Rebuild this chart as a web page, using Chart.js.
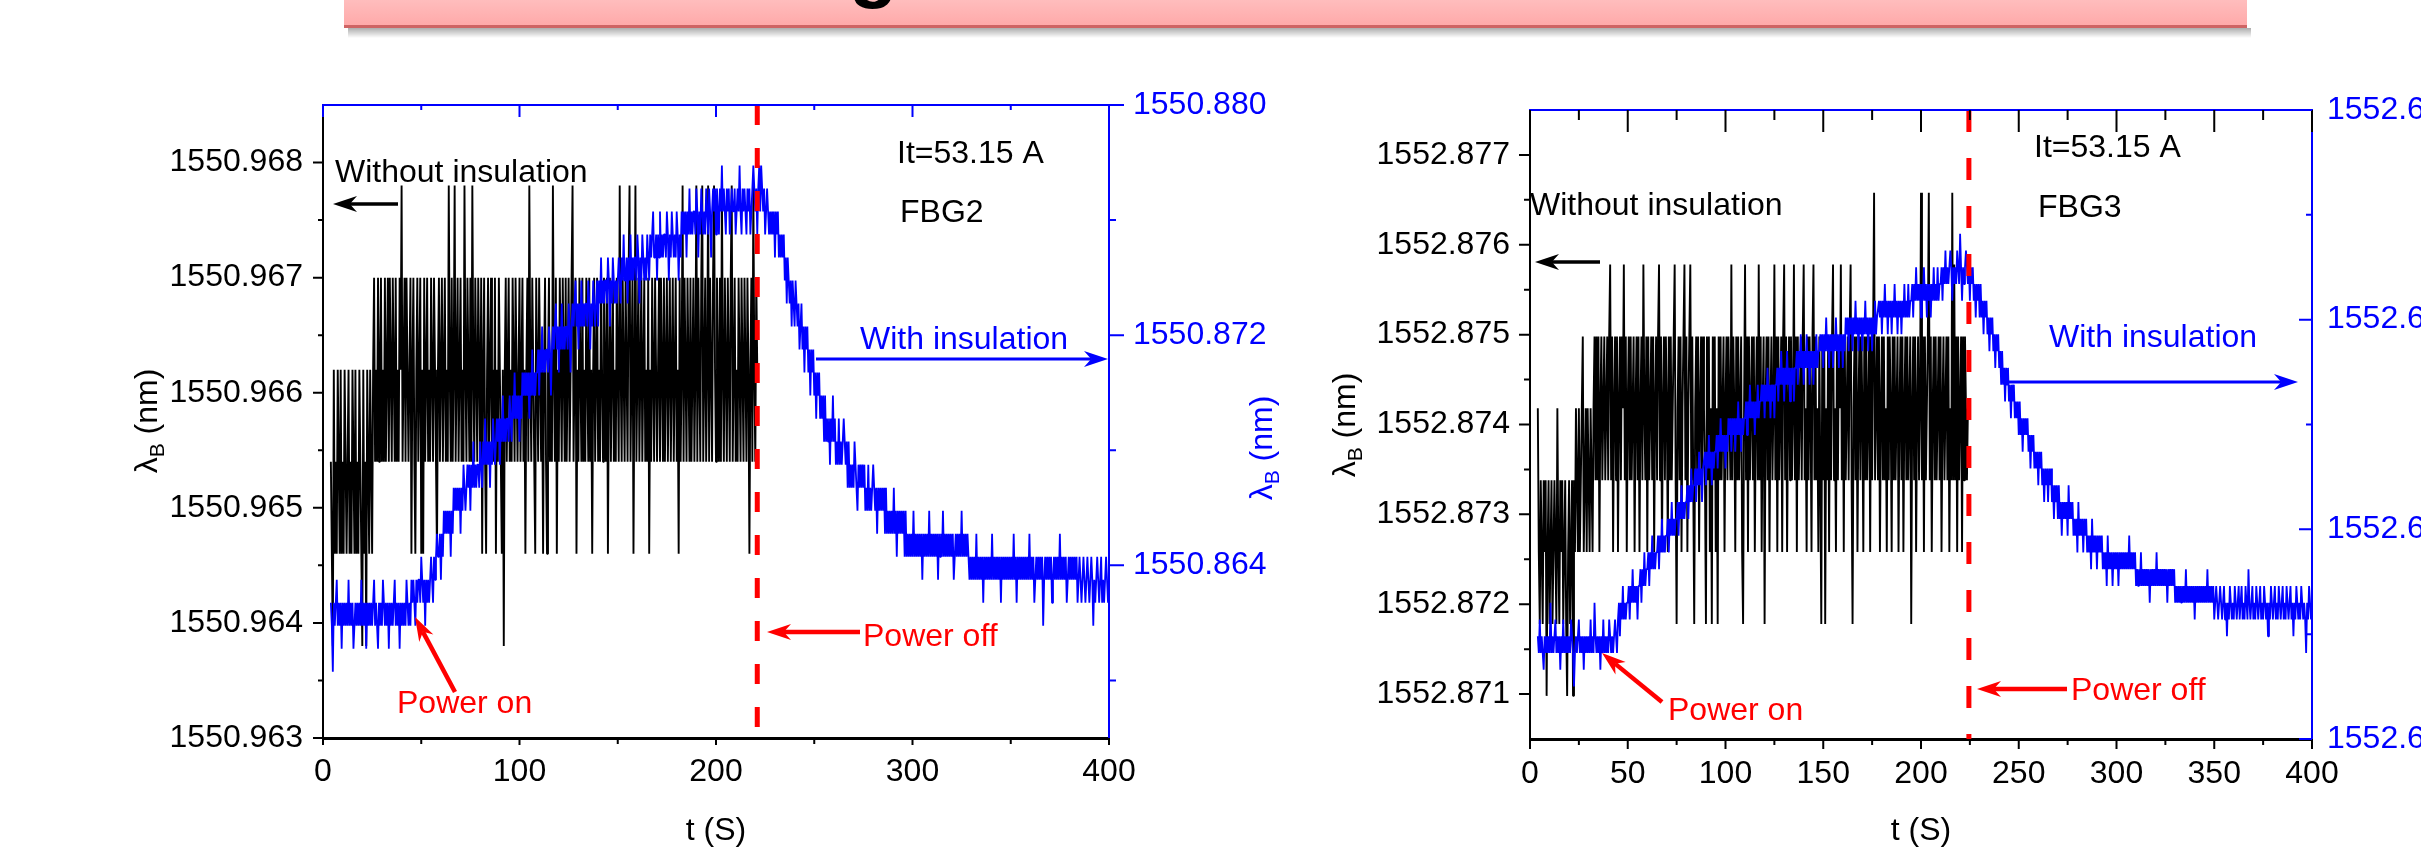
<!DOCTYPE html>
<html>
<head>
<meta charset="utf-8">
<script src="https://cdn.jsdelivr.net/npm/chart.js@4.4.1/dist/chart.umd.min.js"></script>
<style>
html, body { margin:0; padding:0; background:#ffffff; width:2421px; height:853px; overflow:hidden; }
canvas { position:absolute; top:0; }
#banner { left:344px; }
#fbg2 { left:0; }
#fbg3 { left:1300px; }
</style>
</head>
<body>
<canvas id="banner" width="1912" height="44"></canvas>
<canvas id="fbg2" width="1300" height="853"></canvas>
<canvas id="fbg3" width="1121" height="853"></canvas>
<script>
const FONT = "'Liberation Sans', Arial, Helvetica, sans-serif";
const BLUE = '#0000ff', RED = '#ff0000', BLACK = '#000000';

// sampling of the recorded traces
const tStart = 4;     // s, first sample
const tStep = 0.5;    // s, sampling interval

// ---------------- FBG2 (level tables + level index per sample) ----------------
const fbg2BlackLevels = [1550.9638, 1550.9646, 1550.9654, 1550.9662, 1550.9670, 1550.9678];
const fbg2BlackIdx = [
2,1,0,3,1,2,1,3,2,1, 3,1,2,1,3,2,1,2,3,1, 2,1,3,2,1,3,1,2,1,3, 2,1,0,3,1,2,0,3,2,1, 3,2,1,3,4,2,
3,2,4,2,3,4,2,3,2,4, 2,3,4,2,4,3,2,4,3,2, 4,2,3,2,4,3,5,2,3,4, 2,4,3,2,3,4,1,3,4,2,
1,3,4,2,3,4,1,3,1,4, 2,3,4,2,3,2,4,3,2,4, 3,2,1,3,4,2,3,4,2,3, 4,2,3,2,5,3,2,4,2,3,
5,2,3,4,2,3,4,2,3,2, 5,3,2,4,3,2,4,2,5,3, 2,4,3,2,4,3,2,4,1,3, 4,2,1,3,4,2,3,4,2,3,
2,4,1,3,2,4,3,2,1,3, 0,3,4,2,3,4,2,3,2,4, 3,2,4,3,2,3,4,2,3,4, 2,3,1,3,4,2,5,3,2,4,
3,2,1,4,3,2,4,3,2,3, 1,3,4,2,1,3,4,2,3,2, 5,3,2,4,1,3,2,4,3,2, 4,3,2,4,2,3,4,2,3,4,
5,2,3,4,1,3,2,4,3,2, 4,2,3,2,4,3,2,4,2,3, 1,3,4,2,3,4,2,3,2,4, 3,2,4,3,2,4,1,3,4,2,
3,4,2,3,2,4,3,2,5,3, 2,4,3,2,4,3,2,4,5,2, 3,4,1,3,5,2,3,4,2,3, 4,2,3,4,2,3,2,4,1,3,
2,4,3,2,4,3,2,3,4,2, 4,3,2,4,2,3,4,2,3,4, 2,3,4,2,3,4,2,3,1,4, 2,3,5,2,4,3,2,4,3,2,
4,2,3,4,2,3,5,2,4,3, 2,4,5,2,3,4,2,3,5,2, 4,3,2,4,5,3,2,4,3,2, 4,2,5,3,2,4,3,2,4,3,
2,4,5,2,3,4,2,3,2,4, 3,2,4,3,2,4,3,2,4,3, 1,3,4,2,5,3,2,4,3];
const fbg2BlueLevels = [1550.8603, 1550.8611, 1550.8619, 1550.8627, 1550.8635, 1550.8643, 1550.8651, 1550.8659,
  1550.8667, 1550.8675, 1550.8683, 1550.8691, 1550.8699, 1550.8707, 1550.8715, 1550.8723, 1550.8731, 1550.8739,
  1550.8747, 1550.8755, 1550.8763, 1550.8771, 1550.8779];
const fbg2BlueIdx = [
3,2,0,3,2,3,4,2,3,2, 3,1,3,2,3,2,3,2,4,2, 3,2,3,1,2,3,2,3,2,3, 2,4,2,3,2,3,1,3,2,3,
2,3,2,3,4,2,3,2,1,3, 2,3,2,4,3,2,3,2,3,1, 3,2,3,2,3,4,2,3,2,3, 1,3,2,3,2,3,2,4,3,2,
3,2,4,3,4,3,2,4,3,4, 4,3,5,4,3,4,2,4,3,4, 3,4,5,4,3,5,4,5,6,5, 5,6,4,6,5,7,6,7,6,7,
6,7,5,7,6,8,7,8,7,8, 7,8,6,8,7,9,8,7,8,9, 8,9,7,9,8,10,8,9,8,9, 9,8,10,9,8,10,9,11,9,10,
9,10,8,10,9,11,10,9,10,11, 10,11,9,11,10,12,10,11,10,11, 11,10,12,11,10,12,11,13,11,12, 11,12,10,12,11,13,12,13,12,13,
12,13,11,13,12,14,12,13,12,13, 13,14,12,14,13,15,13,14,13,14, 14,13,15,14,12,14,15,14,15,16, 14,15,13,15,14,16,14,15,14,15,
15,14,16,15,13,15,16,15,16,17, 15,16,14,16,15,17,15,16,15,16, 16,15,17,16,14,16,15,17,16,15, 16,17,15,17,16,18,16,17,16,17,
17,16,18,17,15,17,16,18,17,16, 17,16,17,18,17,16,18,17,19,17, 17,18,16,18,17,19,17,18,17,18, 18,17,19,18,16,18,17,19,18,17,
18,17,19,18,17,19,18,19,20,18, 18,19,17,19,18,20,18,19,18,19, 19,18,20,19,17,19,18,20,19,18, 19,18,20,19,17,19,18,20,19,20,
19,20,18,20,19,21,19,20,19,20, 20,19,21,20,18,20,19,21,20,19, 20,19,21,20,19,21,20,18,20,21, 20,21,19,21,20,19,21,20,22,20,
21,20,19,21,20,21,19,20,21,20, 20,21,19,20,21,20,22,20,19,21, 20,21,20,19,21,20,21,19,20,21, 22,21,20,21,19,21,22,20,22,21,
20,21,19,20,21,20,19,20,19,20, 19,20,18,20,19,20,18,19,18,19, 18,19,17,18,16,18,17,16,17,15, 17,16,15,17,16,15,16,14,15,16,
14,15,13,15,14,15,13,14,12,14, 13,14,12,13,11,13,12,13,11,12, 11,12,10,12,10,11,10,11,9,11, 10,12,10,11,9,10,9,11,9,10,
9,10,11,10,9,10,8,10,8,9, 8,9,8,10,9,8,7,9,8,9, 8,9,8,9,7,8,7,9,7,8, 7,8,9,8,7,8,6,8,7,8,
7,8,7,8,6,8,6,7,6,7, 6,7,6,8,6,7,5,7,6,7, 6,7,6,7,5,7,5,6,5,6, 5,6,5,7,5,6,5,6,5,6,
5,6,4,6,5,6,5,6,5,7, 5,6,5,6,5,6,5,6,4,6, 5,6,5,7,5,6,5,6,5,6, 5,6,5,6,4,5,6,5,6,5,
6,5,7,5,6,5,6,5,6,5, 4,5,4,5,4,5,4,6,4,5, 4,5,4,5,3,5,4,5,4,5, 4,5,4,6,4,5,4,5,4,5,
4,5,3,5,4,5,4,5,4,5, 4,5,4,5,4,6,4,5,3,5, 4,5,4,5,4,5,4,5,4,5, 4,6,4,5,4,5,3,4,5,4,
5,4,5,4,5,2,4,5,4,5, 4,5,4,5,3,4,5,4,5,4, 5,4,6,4,5,4,5,4,5,3, 4,5,4,5,4,5,4,5,4,5,
3,4,5,4,3,4,5,4,3,4, 5,4,3,4,5,4,2,4,3,4, 5,4,3,4,5,3,4,3,4,5, 4,3,4];
const fbg2PowerOff = 221;
const fbg2XTicks = [0, 100, 200, 300, 400];
const fbg2XMinor = [50, 150, 250, 350];
const fbg2YTicks = [1550.963, 1550.964, 1550.965, 1550.966, 1550.967, 1550.968];
const fbg2YMinor = [1550.9635, 1550.9645, 1550.9655, 1550.9665, 1550.9675];
const fbg2Y2Ticks = [1550.864, 1550.872, 1550.880];
const fbg2Y2Minor = [1550.860, 1550.868, 1550.876];

// ---------------- FBG3 ----------------
const fbg3BlackLevels = [1552.87098, 1552.87178, 1552.87258, 1552.87338, 1552.87418, 1552.87498, 1552.87578, 1552.87658];
const fbg3BlackIdx = [
4,2,1,3,2,1,3,2,3,0, 2,3,1,2,3,1,2,3,2,1, 4,2,1,3,2,3,1,2,3,1, 0,2,3,1,2,3,0,3,2,4,
3,2,4,2,3,4,5,2,3,4, 2,4,3,2,4,3,2,4,5,3, 5,3,5,2,4,5,3,4,5,3, 4,5,3,5,6,3,5,2,4,5,
3,5,2,4,5,3,5,4,6,3, 5,2,4,5,3,5,3,4,5,2, 4,5,3,5,2,4,5,3,6,4, 3,5,2,5,3,4,5,3,5,2,
4,5,3,5,6,3,5,2,4,5, 3,5,4,2,5,3,5,3,4,5, 6,3,1,4,5,3,5,2,4,5, 6,3,5,2,4,5,6,3,5,3,
1,4,5,3,5,2,4,5,3,5, 4,3,1,5,3,5,2,4,1,5, 3,5,2,4,1,5,3,5,3,4, 5,2,4,5,3,5,4,3,6,3,
5,4,2,5,3,5,3,4,5,2, 1,4,6,3,5,2,5,3,4,5, 3,5,2,4,5,3,6,3,5,2, 4,5,1,4,5,3,5,2,4,5,
3,4,6,3,5,2,5,3,4,5, 2,5,6,3,5,2,4,5,3,5, 3,4,6,3,5,2,5,3,4,5, 3,5,6,3,4,2,5,3,5,4,
2,5,6,3,5,3,4,2,5,3, 1,5,3,5,1,4,3,5,2,5, 3,5,6,3,4,2,5,3,5,4, 6,3,5,2,5,3,4,5,3,5,
6,3,1,4,5,3,5,2,4,5, 3,5,4,2,5,3,5,3,4,5, 2,5,3,5,7,3,4,5,3,5, 2,4,5,3,5,3,4,2,5,3,
5,4,2,5,3,5,3,4,5,2, 4,5,3,5,2,4,5,3,5,3, 4,5,1,4,5,3,5,2,4,5, 3,4,7,3,5,2,5,3,4,5,
7,3,5,2,4,5,3,5,3,4, 5,3,5,2,4,5,3,4,5,3, 5,2,4,3,7,3,6,3,5,2, 5,3,4,5,2,5,3,5,4,3,
4];
const fbg3BlueLevels = [1552.6325, 1552.6333, 1552.6341, 1552.6349, 1552.6357, 1552.6365, 1552.6373, 1552.6381,
  1552.6389, 1552.6397, 1552.6405, 1552.6413, 1552.6421, 1552.6429, 1552.6437, 1552.6445, 1552.6453, 1552.6461,
  1552.6469, 1552.6477, 1552.6485, 1552.6493, 1552.6501, 1552.6509, 1552.6517, 1552.6525, 1552.6533, 1552.6541];
const fbg3BlueIdx = [
3,2,4,2,3,2,1,3,2,3, 2,3,2,5,2,3,2,3,4,2, 3,2,3,1,3,2,4,2,3,2, 3,2,3,2,4,3,2,0,2,3,
2,3,4,2,3,2,3,1,3,2, 3,2,3,2,4,2,3,2,5,3, 2,3,2,3,1,3,2,4,2,3, 2,3,2,4,3,2,3,2,3,4,
3,2,4,5,3,5,4,6,4,5, 4,5,5,6,4,6,5,7,5,6, 5,6,4,6,6,7,5,7,6,8, 6,7,7,8,6,8,7,9,7,8,
7,8,8,9,7,9,8,10,8,9, 8,9,9,10,8,10,9,11,9,10, 9,10,10,11,9,11,10,12,10,11, 10,11,11,12,10,12,11,13,11,12,
12,13,11,13,12,14,12,13,11,13, 13,14,12,14,13,15,13,14,12,14, 13,14,14,15,13,15,14,16,14,15, 14,15,13,15,14,16,15,16,14,16,
15,16,14,16,15,17,15,16,14,16, 15,16,16,17,15,17,16,18,16,17, 16,17,15,17,16,18,16,17,17,18, 17,18,16,18,17,19,17,18,16,18,
17,18,16,18,18,19,17,19,18,20, 18,19,17,19,18,20,18,19,17,19, 18,19,17,19,19,20,18,20,19,21, 19,20,18,20,19,21,19,20,18,20,
19,20,18,20,19,21,19,20,20,21, 20,21,19,21,20,22,20,21,19,21, 20,21,19,21,20,22,20,21,19,21, 20,21,19,21,20,22,21,22,20,22,
21,22,20,22,21,23,21,22,20,22, 21,22,20,22,21,23,21,22,20,22, 21,22,20,22,21,23,21,22,22,23, 22,23,21,23,22,24,22,23,21,23,
22,23,21,23,22,24,22,23,21,23, 22,23,21,23,22,24,22,23,22,24, 22,23,23,24,22,24,23,25,23,24, 23,24,22,24,23,25,23,24,22,24,
23,24,22,24,23,25,23,24,23,25, 23,24,24,25,23,25,24,26,24,25, 24,25,26,25,23,25,24,25,24,26, 25,24,27,25,23,25,24,25,26,25,
24,25,23,25,24,25,23,24,22,24, 23,24,22,24,22,23,21,23,22,23, 21,22,20,22,21,22,20,21,19,21, 20,21,19,20,18,20,18,19,17,19,
18,19,17,18,16,18,17,18,16,17, 16,17,15,17,15,16,14,16,15,16, 15,16,14,15,13,15,14,15,13,14, 13,14,12,14,13,14,12,13,11,13,
12,13,11,13,12,13,11,12,10,12, 11,12,10,12,10,11,9,11,10,11, 10,11,9,12,10,11,10,11,9,10, 9,10,8,11,9,10,9,10,8,10,
9,10,8,9,8,9,7,10,8,9, 8,9,7,9,8,9,8,9,7,8, 7,8,6,9,7,8,7,8,6,8, 7,8,7,8,6,8,7,8,7,8,
7,8,7,8,7,9,7,8,7,8, 7,8,6,7,6,7,6,8,6,7, 6,7,6,7,6,7,5,7,6,7, 6,7,6,8,6,7,6,7,6,7,
6,7,6,7,5,7,6,7,6,7, 6,7,5,6,5,6,5,6,5,6, 5,6,5,7,5,6,5,6,5,6, 5,6,4,6,5,6,5,6,5,6,
5,6,5,6,5,7,5,6,5,6, 5,6,4,5,6,5,4,5,6,5, 4,5,6,4,5,3,5,4,6,5, 4,5,4,6,5,4,5,6,4,5,
6,4,5,4,6,5,4,7,5,4, 5,6,4,5,4,6,5,4,5,6, 4,5,4,6,5,4,5,3,5,4, 6,5,4,5,6,4,5,4,6,5,
4,5,6,4,5,4,6,5,4,5, 6,4,5,3,5,4,6,5,4,5, 4,6,5,4,5,4,2,5,4,6, 5,4,5];
const fbg3PowerOff = 224.5;
const fbg3XTicks = [0, 50, 100, 150, 200, 250, 300, 350, 400];
const fbg3XMinor = [25, 75, 125, 175, 225, 275, 325, 375];
const fbg3YTicks = [1552.871, 1552.872, 1552.873, 1552.874, 1552.875, 1552.876, 1552.877];
const fbg3YMinor = [1552.8715, 1552.8725, 1552.8735, 1552.8745, 1552.8755, 1552.8765];
const fbg3Y2Ticks = [1552.630, 1552.640, 1552.650, 1552.660];
const fbg3Y2Minor = [1552.635, 1552.645, 1552.655];

// ---------------- helpers ----------------
Chart.defaults.font.family = FONT;
Chart.defaults.font.size = 32;
Chart.defaults.color = BLACK;

function toPoints(idx, levels) {
  return idx.map((k, i) => ({ x: tStart + i * tStep, y: levels[k] }));
}
function series(points, color, width, axis, order) {
  return { data: points, borderColor: color, backgroundColor: color, borderWidth: width,
    pointRadius: 0, pointHoverRadius: 0, tension: 0, fill: false, yAxisID: axis, order: order,
    borderJoinStyle: 'bevel', borderCapStyle: 'butt' };
}
function dashLine(t, ymin, ymax, dash) {
  return { data: [{ x: t, y: ymax }, { x: t, y: ymin }], borderColor: RED, borderWidth: 5,
    borderDash: dash, pointRadius: 0, yAxisID: 'y', order: 0, clip: false, fill: false };
}
function xScale(ticks, pad, height) {
  return { type: 'linear', position: 'bottom', min: 0, max: 400,
    afterBuildTicks: s => { s.ticks = ticks.map(v => ({ value: v })); },
    afterFit: s => { s.height = height; },
    ticks: { color: BLACK, padding: pad, autoSkip: false, maxRotation: 0, font: { size: 32 }, callback: v => String(v) },
    grid: { display: false, drawTicks: false },
    border: { display: true, color: BLACK, width: 3 },
    title: { display: true, text: 't (S)', color: BLACK, font: { size: 32 }, padding: { top: 0, bottom: 3 } } };
}
function yScale(pos, min, max, ticks, color, pad, width) {
  return { type: 'linear', position: pos, min: min, max: max,
    afterBuildTicks: s => { s.ticks = ticks.map(v => ({ value: v })); },
    afterFit: s => { s.width = width; },
    ticks: { color: color, padding: pad, autoSkip: false, font: { size: 32 }, callback: v => Number(v).toFixed(3) },
    grid: { display: false, drawTicks: false },
    border: { display: true, color: color, width: 2 } };
}
function drawMarks(ctx, chart, m) {
  const s = chart.scales[m.scale], ca = chart.chartArea;
  ctx.strokeStyle = m.color; ctx.lineWidth = m.width || 2;
  ctx.beginPath();
  m.values.forEach(v => {
    const p = s.getPixelForValue(v);
    if (m.edge === 'top' || m.edge === 'bottom') {
      const y0 = m.edge === 'top' ? ca.top : ca.bottom;
      ctx.moveTo(p, y0); ctx.lineTo(p, y0 + m.dir * m.len);
    } else {
      const x0 = m.edge === 'left' ? ca.left : ca.right;
      ctx.moveTo(x0, p); ctx.lineTo(x0 + m.dir * m.len, p);
    }
  });
  ctx.stroke();
}
function arrow(ctx, x1, y1, x2, y2, color, w, headLen, headW) {
  const a = Math.atan2(y2 - y1, x2 - x1), c = Math.cos(a), s = Math.sin(a);
  const bx = x2 - headLen * c, by = y2 - headLen * s;
  const nx = x2 - 0.7 * headLen * c, ny = y2 - 0.7 * headLen * s;
  ctx.strokeStyle = color; ctx.fillStyle = color; ctx.lineWidth = w; ctx.lineCap = 'butt';
  ctx.beginPath(); ctx.moveTo(x1, y1); ctx.lineTo(nx, ny); ctx.stroke();
  ctx.beginPath(); ctx.moveTo(x2, y2);
  ctx.lineTo(bx - headW * s, by + headW * c); ctx.lineTo(nx, ny); ctx.lineTo(bx + headW * s, by - headW * c);
  ctx.closePath(); ctx.fill();
}
function lambdaTitle(ctx, bx, cy, color) {
  ctx.save();
  ctx.translate(bx, cy); ctx.rotate(-Math.PI / 2);
  ctx.fillStyle = color; ctx.textBaseline = 'alphabetic'; ctx.textAlign = 'left';
  const big = '32px ' + FONT, small = '21px ' + FONT;
  ctx.font = big; const w1 = ctx.measureText('λ').width, w3 = ctx.measureText(' (nm)').width;
  ctx.font = small; const w2 = ctx.measureText('B').width;
  let x = -(w1 + w2 + w3) / 2;
  ctx.font = big; ctx.fillText('λ', x, 0); x += w1;
  ctx.font = small; ctx.fillText('B', x, 7); x += w2;
  ctx.font = big; ctx.fillText(' (nm)', x, 0);
  ctx.restore();
}
function decoPlugin(spec) {
  return {
    id: 'deco',
    afterDraw(chart) {
      const ctx = chart.ctx, ca = chart.chartArea;
      ctx.save();
      ctx.strokeStyle = BLUE; ctx.lineWidth = 2;
      ctx.beginPath(); ctx.moveTo(ca.left - 1, ca.top); ctx.lineTo(ca.right + 1, ca.top); ctx.stroke();
      spec.marks.forEach(m => drawMarks(ctx, chart, m));
      spec.titles.forEach(t => lambdaTitle(ctx, t[0], t[1], t[2]));
      ctx.textBaseline = 'alphabetic'; ctx.textAlign = 'left';
      ctx.font = '32px ' + FONT;
      spec.texts.forEach(t => { ctx.fillStyle = t[3]; ctx.fillText(t[0], t[1], t[2]); });
      spec.arrows.forEach(a => arrow(ctx, a[0], a[1], a[2], a[3], a[4], a[5], 24, 8));
      ctx.restore();
    }
  };
}
function makeChart(id, cfg) {
  return new Chart(document.getElementById(id), {
    type: 'line',
    data: { datasets: [
      dashLine(cfg.powerOff, cfg.yMin, cfg.yMax, cfg.dash),
      series(toPoints(cfg.blueIdx, cfg.blueLevels), BLUE, 1.8, 'y2', 1),
      series(toPoints(cfg.blackIdx, cfg.blackLevels), BLACK, 1.9, 'y', 2)
    ] },
    options: {
      responsive: false, maintainAspectRatio: false, animation: false, devicePixelRatio: 1, events: [],
      layout: { padding: { top: cfg.top, left: 0, right: 0, bottom: 0 } },
      plugins: { legend: { display: false }, tooltip: { enabled: false }, title: { display: false } },
      scales: {
        x: xScale(cfg.xTicks, cfg.xPad, cfg.xH),
        y: yScale('left', cfg.yMin, cfg.yMax, cfg.yTicks, BLACK, 20, cfg.leftW),
        y2: yScale('right', cfg.y2Min, cfg.y2Max, cfg.y2Ticks, BLUE, cfg.y2Pad, cfg.rightW)
      }
    },
    plugins: [decoPlugin(cfg.deco)]
  });
}

// ---------------- banner ----------------
(function () {
  const bc = document.getElementById('banner').getContext('2d');
  const sg = bc.createLinearGradient(0, 28, 0, 38);
  sg.addColorStop(0, 'rgba(0,0,0,0.32)'); sg.addColorStop(1, 'rgba(0,0,0,0)');
  bc.fillStyle = sg; bc.fillRect(4, 28, 1903, 10);
  const g = bc.createLinearGradient(0, 0, 0, 26);
  g.addColorStop(0, '#ffbdbd'); g.addColorStop(1, '#ffa9a9');
  bc.fillStyle = g; bc.fillRect(0, 0, 1903, 26);
  bc.fillStyle = '#cf6464'; bc.fillRect(0, 25, 1903, 3);
  bc.fillStyle = BLACK; bc.font = 'bold 80px ' + FONT; bc.textBaseline = 'alphabetic';
  bc.fillText('g', 505, -8);
})();

// ---------------- charts ----------------
makeChart('fbg2', {
  powerOff: fbg2PowerOff, dash: [20, 23], top: 105, leftW: 323, rightW: 191, xH: 115, xPad: 15, y2Pad: 24,
  yMin: 1550.963, yMax: 1550.9685, y2Min: 1550.858, y2Max: 1550.880,
  xTicks: fbg2XTicks, yTicks: fbg2YTicks, y2Ticks: fbg2Y2Ticks,
  blackIdx: fbg2BlackIdx, blackLevels: fbg2BlackLevels, blueIdx: fbg2BlueIdx, blueLevels: fbg2BlueLevels,
  deco: {
    marks: [
      { scale: 'x', edge: 'bottom', values: fbg2XTicks, len: 7, dir: 1, color: BLACK },
      { scale: 'x', edge: 'bottom', values: fbg2XMinor, len: 6, dir: 1, color: BLACK },
      { scale: 'x', edge: 'top', values: fbg2XTicks, len: 12, dir: 1, color: BLUE },
      { scale: 'x', edge: 'top', values: fbg2XMinor, len: 5, dir: 1, color: BLUE },
      { scale: 'y', edge: 'left', values: fbg2YTicks, len: 10, dir: -1, color: BLACK },
      { scale: 'y', edge: 'left', values: fbg2YMinor, len: 5, dir: -1, color: BLACK },
      { scale: 'y2', edge: 'right', values: fbg2Y2Ticks, len: 15, dir: 1, color: BLUE },
      { scale: 'y2', edge: 'right', values: fbg2Y2Minor, len: 7, dir: 1, color: BLUE }
    ],
    titles: [[157, 421, BLACK], [1272, 448, BLUE]],
    texts: [
      ['Without insulation', 335, 182, BLACK],
      ['It=53.15 A', 897, 163, BLACK],
      ['FBG2', 900, 222, BLACK],
      ['With insulation', 860, 349, BLUE],
      ['Power off', 863, 646, RED],
      ['Power on', 397, 713, RED]
    ],
    arrows: [
      [398, 204, 333, 204, BLACK, 3.5],
      [816, 359, 1108, 359, BLUE, 3],
      [860, 632, 767, 632, RED, 4.5],
      [455, 692, 415, 617, RED, 4.5]
    ]
  }
});

const OX = 1300;
makeChart('fbg3', {
  powerOff: fbg3PowerOff, dash: [22, 26], top: 110, leftW: 230, rightW: 109, xH: 114, xPad: 16, y2Pad: 15,
  yMin: 1552.8705, yMax: 1552.8775, y2Min: 1552.630, y2Max: 1552.660,
  xTicks: fbg3XTicks, yTicks: fbg3YTicks, y2Ticks: fbg3Y2Ticks,
  blackIdx: fbg3BlackIdx, blackLevels: fbg3BlackLevels, blueIdx: fbg3BlueIdx, blueLevels: fbg3BlueLevels,
  deco: {
    marks: [
      { scale: 'x', edge: 'bottom', values: fbg3XTicks, len: 10, dir: 1, color: BLACK },
      { scale: 'x', edge: 'bottom', values: fbg3XMinor, len: 6, dir: 1, color: BLACK },
      { scale: 'x', edge: 'top', values: fbg3XTicks, len: 22, dir: 1, color: BLACK },
      { scale: 'x', edge: 'top', values: fbg3XMinor, len: 10, dir: 1, color: BLACK },
      { scale: 'y', edge: 'left', values: fbg3YTicks, len: 11, dir: -1, color: BLACK },
      { scale: 'y', edge: 'left', values: fbg3YMinor, len: 6, dir: -1, color: BLACK },
      { scale: 'y2', edge: 'right', values: fbg3Y2Ticks, len: 13, dir: -1, color: BLUE },
      { scale: 'y2', edge: 'right', values: fbg3Y2Minor, len: 6, dir: -1, color: BLUE }
    ],
    titles: [[1355 - OX, 425, BLACK]],
    texts: [
      ['Without insulation', 1530 - OX, 215, BLACK],
      ['It=53.15 A', 2034 - OX, 157, BLACK],
      ['FBG3', 2038 - OX, 217, BLACK],
      ['With insulation', 2049 - OX, 347, BLUE],
      ['Power off', 2071 - OX, 700, RED],
      ['Power on', 1668 - OX, 720, RED]
    ],
    arrows: [
      [1600 - OX, 262, 1535 - OX, 262, BLACK, 3.5],
      [2008 - OX, 382, 2298 - OX, 382, BLUE, 3],
      [2067 - OX, 689, 1977 - OX, 689, RED, 4.5],
      [1662 - OX, 702, 1602 - OX, 653, RED, 4.5]
    ]
  }
});
</script>
</body>
</html>
